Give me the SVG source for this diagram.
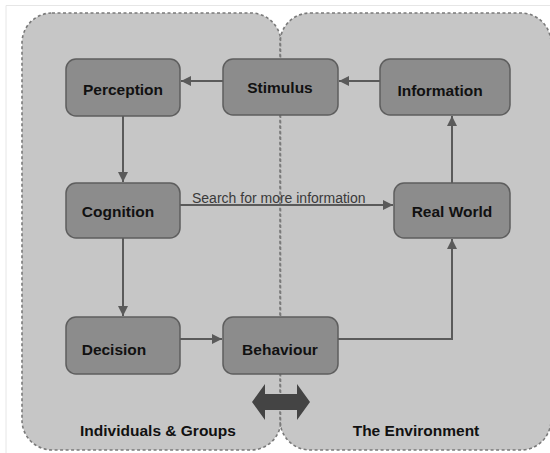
<svg xmlns="http://www.w3.org/2000/svg" width="550" height="453" viewBox="0 0 550 453">
<defs>
<style>
.cont{fill:#c6c6c6;stroke:#7a7a7a;stroke-width:1.6;stroke-dasharray:3 2.5}
.node{fill:#8c8c8c;stroke:#5e5e5e;stroke-width:1.5}
.lbl{font-family:"Liberation Sans",Arial,sans-serif;font-weight:bold;font-size:15.5px;fill:#111111;text-anchor:middle}
.edge{fill:none;stroke:#5a5a5a;stroke-width:2}
.elbl{font-family:"Liberation Sans",Arial,sans-serif;font-size:14px;fill:#3a3a3a}
</style>
<marker id="ah" viewBox="0 0 10 10" refX="10" refY="5" markerWidth="5" markerHeight="5" orient="auto" markerUnits="strokeWidth">
<path d="M0,0 L10,5 L0,10 z" fill="#5a5a5a"/>
</marker>
</defs>
<rect width="550" height="453" fill="#ffffff"/>
<path d="M6,453 V5.5 H550" fill="none" stroke="#e6e6e6" stroke-width="1"/>
<g id="individuals-groups">
<rect class="cont" x="22" y="13" width="259" height="437" rx="30" ry="30"/>
<text class="lbl" x="158" y="436">Individuals &amp; Groups</text>
</g>
<g id="environment">
<rect class="cont" x="280" y="13" width="271" height="437" rx="30" ry="30"/>
<text class="lbl" x="416" y="436">The Environment</text>
</g>
<line x1="280.5" y1="38" x2="280.5" y2="427" stroke="#7a7a7a" stroke-width="1.6" stroke-dasharray="3 2.5"/>
<g id="connectors">
<line class="edge" x1="223" y1="81" x2="181" y2="81" marker-end="url(#ah)"/>
<line class="edge" x1="380" y1="81" x2="339" y2="81" marker-end="url(#ah)"/>
<line class="edge" x1="123" y1="116" x2="123" y2="182" marker-end="url(#ah)"/>
<line class="edge" x1="180" y1="205" x2="393" y2="205" marker-end="url(#ah)"/>
<text class="elbl" x="192" y="203">Search for more information</text>
<line class="edge" x1="123" y1="238" x2="123" y2="316" marker-end="url(#ah)"/>
<line class="edge" x1="180" y1="339" x2="222" y2="339" marker-end="url(#ah)"/>
<polyline class="edge" points="338,339 452,339 452,239" marker-end="url(#ah)"/>
<line class="edge" x1="452" y1="183" x2="452" y2="116" marker-end="url(#ah)"/>
<path d="M252,402 L265,384 L265,394 L297,394 L297,384 L310,402 L297,420 L297,410 L265,410 L265,420 z" fill="#444444"/>
</g>
<g id="perception">
<rect class="node" x="66" y="59" width="114" height="57" rx="10"/>
<text class="lbl" x="123" y="95">Perception</text>
</g>
<g id="stimulus">
<rect class="node" x="223" y="59" width="115" height="56" rx="10"/>
<text class="lbl" x="280" y="93">Stimulus</text>
</g>
<g id="information">
<rect class="node" x="380" y="59" width="130" height="56" rx="10"/>
<text class="lbl" x="440" y="96">Information</text>
</g>
<g id="cognition">
<rect class="node" x="66" y="183" width="114" height="55" rx="10"/>
<text class="lbl" x="118" y="217">Cognition</text>
</g>
<g id="real-world">
<rect class="node" x="394" y="183" width="116" height="55" rx="10"/>
<text class="lbl" x="452" y="217">Real World</text>
</g>
<g id="decision">
<rect class="node" x="66" y="317" width="114" height="57" rx="10"/>
<text class="lbl" x="114" y="355">Decision</text>
</g>
<g id="behaviour">
<rect class="node" x="223" y="317" width="115" height="57" rx="10"/>
<text class="lbl" x="280" y="355">Behaviour</text>
</g>
</svg>
